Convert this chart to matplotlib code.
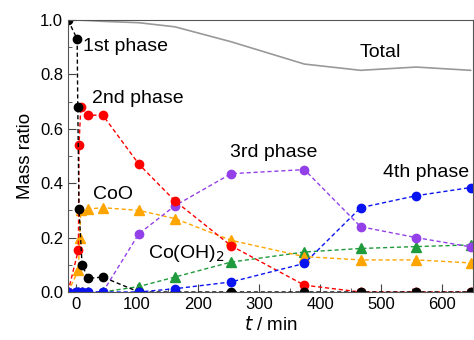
import matplotlib
matplotlib.use("Agg")
import matplotlib.pyplot as plt
from matplotlib.ticker import MultipleLocator

plt.rcParams['font.family'] = ['Liberation Sans', 'DejaVu Sans']

# Data (t in min, mass ratio)
t_total = [-13, 2, 20, 44, 103, 162, 254, 374, 466, 557, 646]
y_total = [1.0, 1.0, 0.998, 0.995, 0.99, 0.975, 0.92, 0.838, 0.815, 0.827, 0.815]

t_first = [-13, 2, 3, 5, 10, 20, 44, 103, 162, 254, 374, 466, 557, 646]
y_first = [1.0, 0.93, 0.68, 0.305, 0.10, 0.05, 0.055, 0, 0, 0, 0, 0, 0, 0]

t_second = [-13, 4, 5, 8, 20, 44, 103, 162, 254, 374, 466, 557, 646]
y_second = [0, 0.155, 0.54, 0.68, 0.65, 0.65, 0.47, 0.335, 0.17, 0.025, 0, 0, 0]

t_coo = [-13, 4, 6, 8, 20, 44, 103, 162, 254, 374, 466, 557, 646]
y_coo = [0, 0.08, 0.20, 0.30, 0.305, 0.31, 0.30, 0.27, 0.19, 0.13, 0.118, 0.118, 0.107]

t_cooh = [-13, 0, 3, 10, 20, 44, 103, 162, 254, 374, 466, 557, 646]
y_cooh = [0, 0, 0, 0, 0, 0, 0.02, 0.055, 0.11, 0.147, 0.16, 0.167, 0.173]

t_third = [-13, 0, 3, 10, 20, 44, 103, 162, 254, 374, 466, 557, 646]
y_third = [0, 0, 0, 0, 0, 0, 0.214, 0.317, 0.435, 0.45, 0.24, 0.20, 0.166]

t_fourth = [-13, 0, 3, 10, 20, 44, 103, 162, 254, 374, 466, 557, 646]
y_fourth = [0, 0, 0, 0, 0, 0, 0, 0.012, 0.037, 0.105, 0.31, 0.354, 0.384]

fig = plt.figure(figsize=(4.74, 3.4), dpi=100)
ax = fig.add_axes([68 / 474, 48 / 340, 405 / 474, 272 / 340])

ax.plot(t_total, y_total, color='#999999', lw=1.2, zorder=1)

ms = 6
ax.plot(t_cooh, y_cooh, '--^', color='#1f9a3c', ms=ms + 0.5, lw=1, dashes=(3, 2))
ax.plot(t_coo, y_coo, '--^', color='#ffa500', ms=ms + 0.5, lw=1, dashes=(3, 2))
ax.plot(t_third, y_third, '--o', color='#9340e8', ms=ms, lw=1, dashes=(3, 2))
ax.plot(t_second, y_second, '--o', color='#ff0000', ms=ms, lw=1, dashes=(3, 2))
ax.plot(t_first, y_first, '--o', color='black', ms=ms, lw=1, dashes=(3, 2))
ax.plot(t_fourth, y_fourth, '--o', color='#0a14f0', ms=ms, lw=1, dashes=(3, 2))

fs = 14
ax.text(12, 0.904, '1st phase', fontsize=fs, va='center')
ax.text(26, 0.712, '2nd phase', fontsize=fs, va='center')
ax.text(28, 0.36, 'CoO', fontsize=fs, va='center')
ax.text(118, 0.14, 'Co(OH)$_2$', fontsize=fs, va='center')
ax.text(252, 0.513, '3rd phase', fontsize=fs, va='center')
ax.text(503, 0.44, '4th phase', fontsize=fs, va='center')
ax.text(464, 0.88, 'Total', fontsize=fs, va='center')

ax.set_xlim(-13, 650)
ax.set_ylim(0, 1.0)
ax.xaxis.set_major_locator(MultipleLocator(100))
ax.xaxis.set_minor_locator(MultipleLocator(50))
ax.yaxis.set_major_locator(MultipleLocator(0.2))
ax.yaxis.set_minor_locator(MultipleLocator(0.1))
ax.yaxis.set_major_formatter(plt.FormatStrFormatter('%.1f'))
ax.tick_params(which='both', direction='in', labelsize=12, color='#444444')
ax.tick_params(which='major', length=6)
ax.tick_params(which='minor', length=3)
for s in ax.spines.values():
    s.set_color('#555555')

ax.set_xlabel('$t$ / min', fontsize=13.5, labelpad=3)
ax.set_ylabel('Mass ratio', fontsize=13.5)

fig.savefig('out.png', dpi=100)
